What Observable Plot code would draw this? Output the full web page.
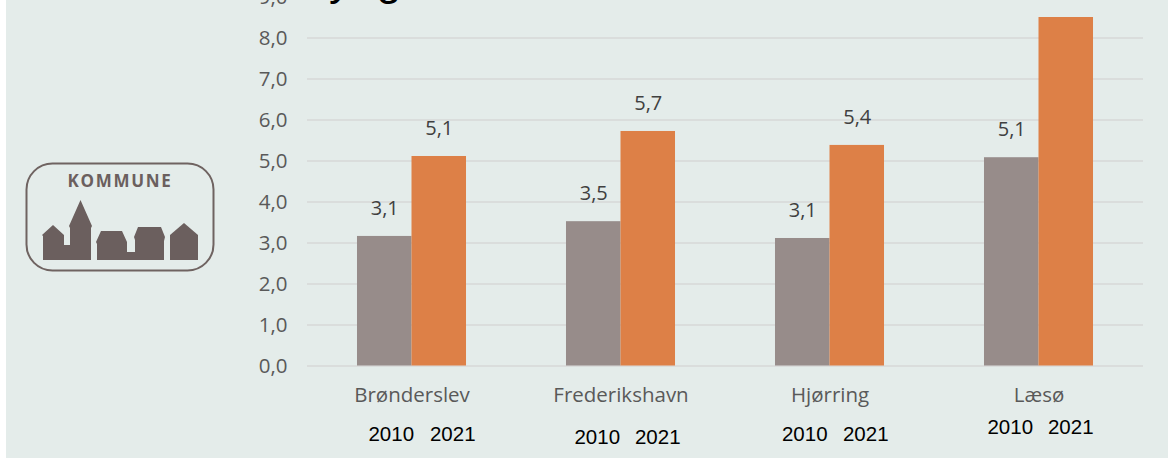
<!DOCTYPE html>
<html>
<head>
<meta charset="utf-8">
<script src="https://cdn.jsdelivr.net/npm/d3@7"></script>
<script src="https://cdn.jsdelivr.net/npm/@observablehq/plot@0.6"></script>
<style>
  html, body { margin: 0; padding: 0; background: #e4ecea; width: 1168px; height: 458px; overflow: hidden; }
  #strip { position: absolute; left: 0; top: 0; width: 6px; height: 458px; background: #fff; }
  #chart { position: absolute; left: 0; top: 0; }
  #chart svg { display: block; }
  #logo { position: absolute; left: 0; top: 0; }
  #head { position: absolute; left: 329px; top: -47px; font: 45px/54px "Liberation Sans"; color: #000; }
</style>
</head>
<body>
<div id="chart"></div>
<div id="strip"></div>
<div id="head">yng</div>
<svg id="logo" width="240" height="300">
  <rect x="26.5" y="163.5" width="187" height="107" rx="26" fill="none" stroke="#6f6361" stroke-width="2"/>
  <text x="120" y="186.5" text-anchor="middle" font-family="Open Sans" font-weight="700" font-size="17" letter-spacing="1.7" fill="#6b5f5e">KOMMUNE</text>
  <path fill="#6b5f5e" d="M43,260L43,236L42,235L53,225L64,235L64,245L70,245L70,228L69,226L80.5,200L92,226L91,228L91,260Z"/>
  <path fill="#6b5f5e" d="M97,260L97,244L96,242L101,231L122,231L127,242L127,252L135,252L135,240L134,237L138,227L161,227L165,237L164,241L164,260Z"/>
  <path fill="#6b5f5e" d="M170,260L170,235L184,223L198,235L198,260Z"/>
</svg>
<script>
const cities = ["Brønderslev", "Frederikshavn", "Hjørring", "Læsø"];
const years = ["2010", "2021"];
const values2010 = [3.16, 3.52, 3.11, 5.08];
const values2021 = [5.11, 5.72, 5.38, 8.5];
const labels2010 = ["3,1", "3,5", "3,1", "5,1"];
const labels2021 = ["5,1", "5,7", "5,4", ""];
const yTicks = [0, 1, 2, 3, 4, 5, 6, 7, 8, 9];

const rows = cities.flatMap((city, i) => [
  {city, year: years[0], value: values2010[i], label: labels2010[i]},
  {city, year: years[1], value: values2021[i], label: labels2021[i]}
]);

// Hand-placed year captions of the original: offset from each bar centre.
const yearOffsets = [
  [[6.5, 74.5], [13.5, 74.5]],
  [[3.5, 77.5], [9.5, 77.5]],
  [[2, 74.5], [8.5, 74.5]],
  [[-1.5, 67.5], [4.5, 67.5]]
];
const yearMarks = cities.flatMap((city, i) => years.map((year, j) =>
  Plot.text([{city, year}], {
    fx: "city", x: "year", text: "year", frameAnchor: "bottom",
    dx: yearOffsets[i][j][0], dy: yearOffsets[i][j][1],
    fontFamily: "Liberation Sans", fontSize: 20.5, fill: "#000"
  })
));

const plot = Plot.plot({
  width: 1168,
  height: 458,
  marginLeft: 307,
  marginRight: 25,
  marginTop: 0,
  marginBottom: 92.5,
  style: {background: "transparent", fontFamily: "Open Sans", overflow: "visible"},
  fx: {domain: cities, padding: 0, round: false, label: null, axis: null},
  x: {domain: years, paddingInner: 0, paddingOuter: 0.917, round: false, axis: null},
  y: {domain: [0, 9], range: [365.5, -3.5], axis: null},
  marks: [
    Plot.ruleY(yTicks, {stroke: "#dadddc", strokeWidth: 2}),
    Plot.barY(rows, {fx: "city", x: "year", y: "value", fill: d => d.year === years[0] ? "#978c8a" : "#dd8047"}),
    Plot.text(rows, {fx: "city", x: "year", y: "value", text: "label", dy: -28, fontSize: 20, fill: "#404040"}),
    Plot.axisY(yTicks, {anchor: "left", tickSize: 0, tickPadding: 20, tickFormat: d => d.toFixed(1).replace(".", ","), fontSize: 20.5, fill: "#595959", label: null}),
    Plot.axisFx({anchor: "bottom", tickSize: 0, tickPadding: 21, fontSize: 20.5, fill: "#595959", label: null}),
    ...yearMarks
  ]
});
document.getElementById("chart").appendChild(plot);
</script>
</body>
</html>
